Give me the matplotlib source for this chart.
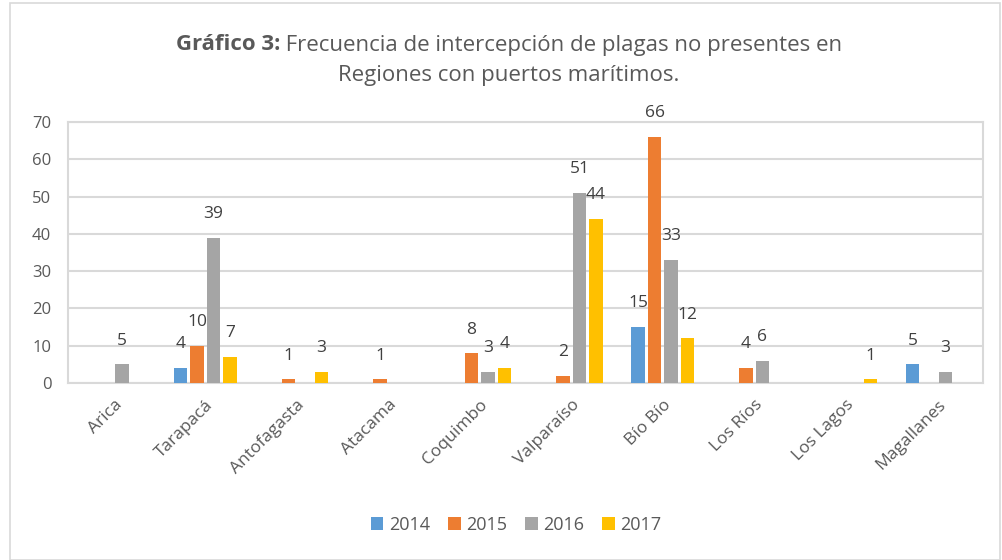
import matplotlib
matplotlib.use("Agg")
import matplotlib.pyplot as plt
from matplotlib.patches import Patch, Rectangle
import numpy as np

regions = ["Arica", "Tarapacá", "Antofagasta", "Atacama", "Coquimbo",
           "Valparaíso", "Bío Bío", "Los Ríos", "Los Lagos", "Magallanes"]
years = ["2014", "2015", "2016", "2017"]
v2014 = [0, 4, 0, 0, 0, 0, 15, 0, 0, 5]
v2015 = [0, 10, 1, 1, 8, 2, 66, 4, 0, 0]
v2016 = [5, 39, 0, 0, 3, 51, 33, 6, 0, 3]
v2017 = [0, 7, 3, 0, 4, 44, 12, 0, 1, 0]
colors = ["#5B9BD5", "#ED7D31", "#A5A5A5", "#FFC000"]

plt.rcParams['font.family'] = ['Open Sans', 'DejaVu Sans']
text_color = "#595959"
grid_color = "#D9D9D9"

fig = plt.figure(figsize=(10.02, 5.6), dpi=100)
# outer chart frame
fig.patches.append(Rectangle((10 / 1002, 0), 990 / 1002, 557 / 560, transform=fig.transFigure,
                             fill=False, edgecolor=grid_color, linewidth=1.2))

ax = fig.add_axes([68 / 1002, 1 - 383 / 560, (983 - 68) / 1002, (383 - 122) / 560])

x = np.arange(len(regions))
pitch = 0.18
width = 0.145
series = [v2014, v2015, v2016, v2017]
for i, vals in enumerate(series):
    pos = x + (i - 1.5) * pitch
    ax.bar(pos, vals, width=width, color=colors[i], zorder=3)
    for px, v in zip(pos, vals):
        if v > 0:
            ax.annotate(str(v), (px, v), xytext=(0, 17), textcoords="offset points",
                        ha="center", va="center", fontsize=12.5, color="#404040")

ax.set_xlim(-0.5, len(regions) - 0.5)
ax.set_ylim(0, 70)
ax.set_yticks(range(0, 71, 10))
ax.grid(axis="y", color=grid_color, linewidth=1.5, zorder=0)
for s in ax.spines.values():
    s.set_color(grid_color)
    s.set_linewidth(1.5)
ax.tick_params(axis="both", length=0, colors=text_color, labelsize=12)
ax.tick_params(axis="y", pad=12)
ax.set_xticks(x)
ax.set_xticklabels(regions, rotation=45, ha="right", rotation_mode="anchor", fontsize=12.5)
ax.tick_params(axis="x", pad=10)

# title: bold prefix + normal text on first line
title_size = 16
t_bold = fig.text(0, 0, "Gráfico 3:", fontsize=title_size, fontweight="bold", color=text_color,
                  va="center")
t_norm = fig.text(0, 0, " Frecuencia de intercepción de plagas no presentes en", fontsize=title_size,
                  color=text_color, va="center")
fig.canvas.draw()
r = fig.canvas.get_renderer()
wb = t_bold.get_window_extent(r).width / fig.bbox.width
wn = t_norm.get_window_extent(r).width / fig.bbox.width
x0 = 0.508 - (wb + wn) / 2
y1 = 1 - 45 / 560
t_bold.set_position((x0, y1))
t_norm.set_position((x0 + wb, y1))
fig.text(0.508, 1 - 76 / 560, "Regiones con puertos marítimos.", fontsize=title_size,
         color=text_color, ha="center", va="center")

handles = [Patch(facecolor=c) for c in colors]
fig.legend(handles, years, loc="center", bbox_to_anchor=(0.515, 1 - 525 / 560), ncol=4,
           frameon=False, handlelength=0.7, handleheight=0.7, handletextpad=0.3,
           columnspacing=1.0, fontsize=13, labelcolor=text_color)

fig.savefig("out.png", dpi=100)
